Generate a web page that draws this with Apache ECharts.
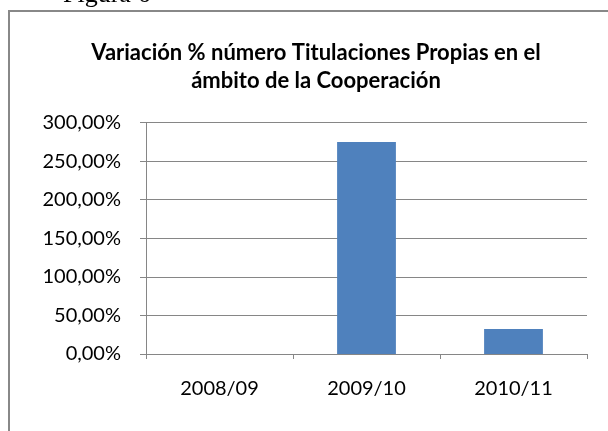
<!DOCTYPE html>
<html>
<head>
<meta charset="utf-8">
<script src="https://cdn.jsdelivr.net/npm/echarts@6/dist/echarts.min.js"></script>
<style>
  html, body { margin: 0; padding: 0; background: #fff; }
  #main { width: 608px; height: 431px; }
</style>
</head>
<body>
<div id="main"></div>
<script>
// datos del gráfico
var categorias = ["2008/09", "2009/10", "2010/11"];
var variacion = [0, 275, 32.5];
var yTicks = [0, 50, 100, 150, 200, 250, 300];

var myChart = echarts.init(document.getElementById('main'));

var option = {
    backgroundColor: "#fff",
    animation: false,
    title: {
        text: "Variación % número Titulaciones Propias en el\námbito de la Cooperación",
        left: 311,
        top: 34,
        textAlign: "center",
        textStyle: {
            fontFamily: "Lato",
            fontWeight: "bold",
            fontSize: 22,
            lineHeight: 28,
            color: "#000"
        }
    },
    graphic: [
        {
            type: "rect",
            shape: { x: 9, y: 11, width: 620, height: 440 },
            style: { fill: "none", stroke: "#888", lineWidth: 2 }
        },
        {
            type: "text",
            left: 63,
            top: -18,
            style: {
                text: "Figura 6",
                font: "26px 'Liberation Serif'",
                fill: "#000"
            }
        }
    ],
    grid: {
        left: 146,
        right: 21,
        top: 122.6,
        bottom: 77
    },
    xAxis: {
        type: "category",
        data: categorias,
        axisLine: { lineStyle: { color: "#868686", width: 1 } },
        axisTick: { show: true, length: 5, lineStyle: { color: "#868686" } },
        axisLabel: {
            color: "#000",
            fontFamily: "Lato",
            fontSize: 20,
            margin: 25
        }
    },
    yAxis: {
        type: "value",
        min: yTicks[0],
        max: yTicks[yTicks.length - 1],
        interval: 50,
        axisLine: { show: true, lineStyle: { color: "#868686", width: 1 } },
        axisTick: { show: true, length: 6, lineStyle: { color: "#868686" } },
        splitLine: { lineStyle: { color: "#868686", width: 1 } },
        axisLabel: {
            color: "#000",
            fontFamily: "Lato",
            fontSize: 20,
            margin: 25,
            formatter: function (v) {
                return v.toFixed(2).replace(".", ",") + "%";
            }
        }
    },
    series: [
        {
            type: "bar",
            data: variacion,
            barWidth: "40%",
            itemStyle: { color: "#4F81BD" }
        }
    ]
};

myChart.setOption(option);
</script>
</body>
</html>
